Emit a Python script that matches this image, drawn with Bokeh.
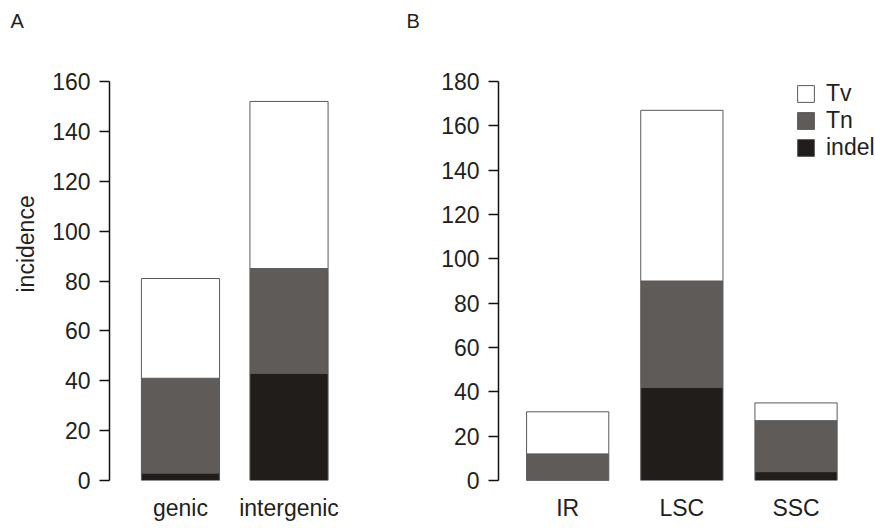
from bokeh.plotting import figure
from bokeh.models import (ColumnDataSource, Range1d, FixedTicker, Legend,
                          LegendItem, Title)
from bokeh.layouts import row
from bokeh.embed import file_html
from bokeh.resources import INLINE

# ---- data ----
A_CATS = ["genic", "intergenic"]
A_INDEL = [3, 43]
A_TN = [38, 42]
A_TV = [40, 67]
A_TICKS = [0, 20, 40, 60, 80, 100, 120, 140, 160]

B_CATS = ["IR", "LSC", "SSC"]
B_INDEL = [0, 42, 4]
B_TN = [12, 48, 23]
B_TV = [19, 77, 8]
B_TICKS = [0, 20, 40, 60, 80, 100, 120, 140, 160, 180]

SERIES = ["indel", "Tn", "Tv"]
LEGEND_ORDER = ["Tv", "Tn", "indel"]

# ---- style ----
FONT = "Liberation Sans"
TXT = "#231f20"
FILLS = ["#211d1a", "#5f5b58", "#ffffff"]
EDGE = "#5a5a5a"
H = 528
TOP = 35          # frame top (px)
BOTTOM = 48       # space below frame
AXIS_PX = 399     # px spanned by the tick range
FONT_SIZE = "23px"


def panel(cats, indel, tn, tv, ticks, width, bl, br, x0, x1, letter,
          letter_off, ylabel=None, legend=False):
    pos = list(range(len(cats)))
    src = ColumnDataSource(dict(x=pos, indel=indel, Tn=tn, Tv=tv))
    frame_h = H - TOP - BOTTOM
    p = figure(x_range=Range1d(x0, x1),
               y_range=Range1d(ticks[0], ticks[-1] * frame_h / AXIS_PX),
               width=width, height=H, output_backend="svg",
               toolbar_location=None, min_border_left=bl, min_border_right=br,
               min_border_top=TOP, min_border_bottom=BOTTOM)
    p.outline_line_color = None
    p.xgrid.grid_line_color = None
    p.ygrid.grid_line_color = None
    p.background_fill_color = "white"
    p.border_fill_color = "white"

    rs = p.vbar_stack(SERIES, x="x", width=0.72, source=src,
                      fill_color=FILLS, line_color=EDGE, line_width=1)

    # y axis
    ya = p.yaxis[0]
    ya.ticker = FixedTicker(ticks=ticks)
    ya.bounds = (ticks[0], ticks[-1])
    ya.minor_tick_line_color = None
    ya.major_tick_in = 0
    ya.major_tick_out = 10
    ya.major_tick_line_width = 1.5
    ya.axis_line_width = 1.5
    ya.axis_line_color = "#111111"
    ya.major_tick_line_color = "#111111"
    ya.major_label_standoff = 9
    ya.major_label_text_font = FONT
    ya.major_label_text_font_size = FONT_SIZE
    ya.major_label_text_color = TXT
    if ylabel:
        p.add_layout(Title(text=ylabel, align="left", offset=188,
                           text_font=FONT, text_font_size=FONT_SIZE,
                           text_font_style="normal", text_color=TXT,
                           standoff=21), "left")

    # x axis (category names)
    xa = p.xaxis[0]
    xa.ticker = FixedTicker(ticks=pos)
    xa.major_label_overrides = {i: c for i, c in zip(pos, cats)}
    xa.axis_line_color = None
    xa.major_tick_line_color = None
    xa.minor_tick_line_color = None
    xa.major_label_standoff = 8
    xa.major_label_text_font = FONT
    xa.major_label_text_font_size = FONT_SIZE
    xa.major_label_text_color = TXT

    if legend:
        items = [LegendItem(label=s, renderers=[rs[SERIES.index(s)]])
                 for s in LEGEND_ORDER]
        lg = Legend(items=items, location=(297, 319), padding=0, margin=0,
                    spacing=0, glyph_width=21, glyph_height=21,
                    label_height=27, label_standoff=10,
                    label_text_font=FONT, label_text_font_size=FONT_SIZE,
                    label_text_color=TXT, border_line_color=None,
                    background_fill_alpha=0)
        p.add_layout(lg)

    p.add_layout(Title(text=letter, align="left", offset=letter_off,
                       text_font=FONT, text_font_size="20px",
                       text_font_style="normal", text_color=TXT,
                       standoff=8), "above")
    return p


pa = panel(A_CATS, A_INDEL, A_TN, A_TV, A_TICKS, 400, 109, 10,
           -0.654, 1.935, "A", -99, ylabel="incidence")
pb = panel(B_CATS, B_INDEL, B_TN, B_TV, B_TICKS, 475, 98, 0,
           -0.606, 2.696, "B", -92, legend=True)

layout = row(pa, pb)
open("out.html", "w").write(file_html(layout, INLINE))
